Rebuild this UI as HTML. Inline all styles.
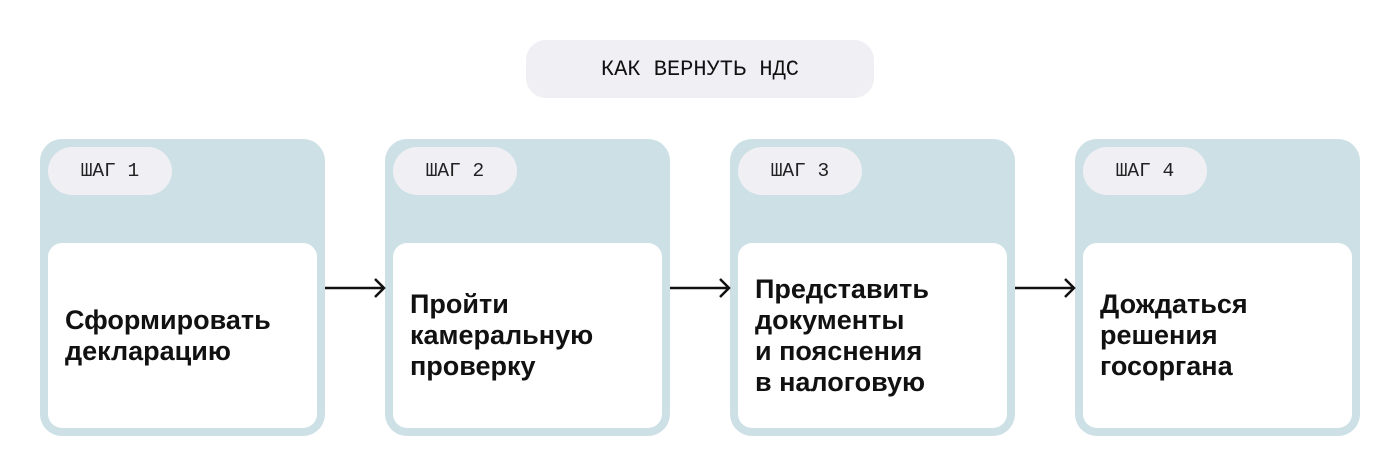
<!DOCTYPE html>
<html><head><meta charset="utf-8"><style>
body{margin:0;width:1400px;height:476px;background:#fff;position:relative;font-family:"Liberation Sans",sans-serif;overflow:hidden}
.title{position:absolute;left:526px;top:40px;width:348px;height:58px;border-radius:20px;background:#f0eff4;display:flex;align-items:center;justify-content:center;font-family:"Liberation Mono",monospace;font-size:22px;color:#111}
.card{position:absolute;top:139px;width:285px;height:297px;border-radius:22px;background:#cce0e5}
.pill{position:absolute;left:8px;top:8px;width:124px;height:48px;border-radius:24px;background:#f0eff4;font-family:"Liberation Mono",monospace;font-size:19.5px;color:#222;display:flex;align-items:center;justify-content:center}
.inner{position:absolute;left:8px;top:104px;width:269px;height:185px;border-radius:14px;background:#fff;display:flex;align-items:center}
.inner div{padding-left:17px;font-weight:bold;font-size:27px;line-height:31px;color:#111}
svg{position:absolute;left:0;top:0}
</style></head><body>
<div class="title">КАК ВЕРНУТЬ НДС</div>
<div class="card" style="left:40px"><div class="pill">ШАГ 1</div><div class="inner"><div>Сформировать<br>декларацию</div></div></div>
<div class="card" style="left:385px"><div class="pill">ШАГ 2</div><div class="inner"><div>Пройти<br>камеральную<br>проверку</div></div></div>
<div class="card" style="left:730px"><div class="pill">ШАГ 3</div><div class="inner"><div>Представить<br>документы<br>и пояснения<br>в налоговую</div></div></div>
<div class="card" style="left:1075px"><div class="pill">ШАГ 4</div><div class="inner"><div>Дождаться<br>решения<br>госоргана</div></div></div>
<svg width="1400" height="476" fill="none" stroke="#111" stroke-width="2.5">
<path d="M325 288H384M375 279l9 9-9 9"/>
<path d="M670 288H729M720 279l9 9-9 9"/>
<path d="M1015 288H1074M1065 279l9 9-9 9"/>
</svg>
</body></html>
